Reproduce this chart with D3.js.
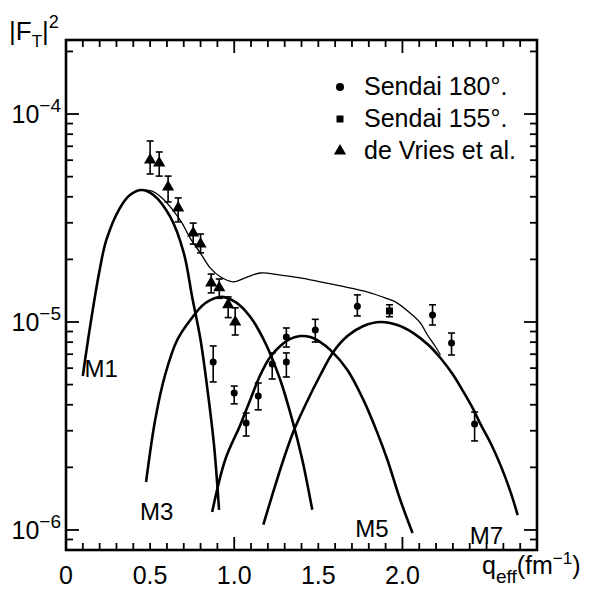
<!DOCTYPE html>
<html><head><meta charset="utf-8">
<script src="https://cdn.jsdelivr.net/npm/d3@7"></script>
<style>body{margin:0;background:#fff}svg{display:block}text{font-family:"Liberation Sans",Arial,sans-serif;fill:#000}</style>
</head><body>
<script>
// ---- data ----
const xTickLabels = ["0","0.5","1.0","1.5","2.0"];
const xTickLabelValues = [0,0.5,1.0,1.5,2.0];
const yTickExponents = [-4,-5,-6];

// de Vries et al. (triangles)
const devriesQ   = [0.50,0.554,0.607,0.667,0.756,0.80,0.863,0.911,0.964,1.006];
const devriesV   = [6.01e-5,5.81e-5,4.46e-5,3.53e-5,2.68e-5,2.37e-5,1.54e-5,1.46e-5,1.21e-5,1.00e-5];
const devriesHi  = [7.42e-5,6.57e-5,5.03e-5,3.95e-5,2.99e-5,2.65e-5,1.70e-5,1.61e-5,1.32e-5,1.17e-5];
const devriesLo  = [5.15e-5,5.03e-5,3.78e-5,3.03e-5,2.37e-5,2.15e-5,1.38e-5,1.30e-5,1.05e-5,8.66e-6];

// Sendai 180 deg (circles)
const s180Q  = [0.875,1.0,1.071,1.143,1.226,1.31,1.31,1.482,1.732,2.179,2.292,2.429];
const s180V  = [6.42e-6,4.56e-6,3.27e-6,4.41e-6,6.28e-6,6.42e-6,8.47e-6,9.15e-6,1.19e-5,1.08e-5,7.93e-6,3.23e-6];
const s180Hi = [7.67e-6,4.92e-6,3.65e-6,5.09e-6,7.10e-6,7.10e-6,9.36e-6,1.03e-5,1.35e-5,1.21e-5,8.85e-6,3.69e-6];
const s180Lo = [5.15e-6,4.04e-6,2.83e-6,3.78e-6,5.32e-6,5.44e-6,7.58e-6,8.01e-6,1.07e-5,9.67e-6,6.94e-6,2.68e-6];

// Sendai 155 deg (square)
const s155Q  = [1.923];
const s155V  = [1.13e-5];
const s155Hi = [1.21e-5];
const s155Lo = [1.06e-5];

// theoretical curves
const m1Q = [0.10,0.14,0.20,0.24,0.32,0.38,0.45,0.52,0.62,0.70,0.75,0.80,0.845,0.88,0.91];
const m1V = [5.50e-6,9.16e-6,1.78e-5,2.48e-5,3.53e-5,4.08e-5,4.31e-5,4.08e-5,3.20e-5,2.15e-5,1.32e-5,8.19e-6,4.46e-6,2.56e-6,1.25e-6];
const m3Q = [0.476,0.530,0.589,0.661,0.738,0.827,0.917,1.006,1.095,1.185,1.274,1.345,1.405,1.464];
const m3V = [1.70e-6,3.38e-6,5.56e-6,8.19e-6,1.02e-5,1.23e-5,1.32e-5,1.25e-5,1.06e-5,7.93e-6,5.26e-6,3.38e-6,2.17e-6,1.25e-6];
const m5Q = [0.869,0.946,1.036,1.095,1.155,1.214,1.274,1.333,1.393,1.452,1.512,1.571,1.673,1.768,1.851,1.911,1.988,2.060];
const m5V = [1.22e-6,2.17e-6,3.20e-6,4.22e-6,5.56e-6,6.79e-6,7.67e-6,8.29e-6,8.56e-6,8.47e-6,8.01e-6,7.34e-6,5.88e-6,4.22e-6,2.93e-6,2.17e-6,1.39e-6,9.67e-7];
const m7Q = [1.173,1.226,1.292,1.351,1.423,1.512,1.589,1.673,1.768,1.869,1.970,2.065,2.155,2.226,2.298,2.363,2.417,2.464,2.524,2.583,2.643,2.685];
const m7V = [1.06e-6,1.47e-6,2.17e-6,2.96e-6,3.99e-6,5.56e-6,7.18e-6,8.56e-6,9.57e-6,1.00e-5,9.67e-6,8.85e-6,7.75e-6,6.71e-6,5.62e-6,4.61e-6,3.86e-6,3.23e-6,2.62e-6,2.05e-6,1.52e-6,1.18e-6];
const sumQ = [0.452,0.512,0.571,0.631,0.690,0.738,0.798,0.857,0.917,0.994,1.065,1.155,1.274,1.393,1.512,1.631,1.768,1.869,1.958,2.048,2.107,2.149,2.190,2.226];
const sumV = [4.31e-5,4.26e-5,3.95e-5,3.49e-5,2.99e-5,2.53e-5,2.15e-5,1.82e-5,1.65e-5,1.56e-5,1.63e-5,1.72e-5,1.68e-5,1.63e-5,1.56e-5,1.49e-5,1.41e-5,1.33e-5,1.25e-5,1.10e-5,9.89e-6,8.66e-6,7.75e-6,6.94e-6];

const curveLabels = [["M1",0.11,5.45e-6],["M3",0.44,1.12e-6],["M5",1.72,9.2e-7],["M7",2.40,8.6e-7]];
const legendItems = [["circle","Sendai 180°."],["square","Sendai 155°."],["triangle","de Vries et al."]];

// ---- drawing ----
const W=593,H=589;
const L=66,R=537,T=40,B=550;
const x=d3.scaleLinear().domain([0,2.8]).range([L,R]);
const y=d3.scaleLog().domain([8.01e-7,2.27e-4]).range([B,T]);
const svg=d3.select("body").append("svg").attr("width",W).attr("height",H);

// frame
svg.append("rect").attr("x",L).attr("y",T).attr("width",R-L).attr("height",B-T)
  .attr("fill","none").attr("stroke","#000").attr("stroke-width",2.6);

// x ticks (top and bottom)
const xt=d3.range(1,28).map(i=>i/10);
const tk=svg.append("g").attr("stroke","#000").attr("stroke-width",1.8);
xt.forEach(q=>{
  const big=Math.abs(q-1)<1e-6||Math.abs(q-2)<1e-6;
  const len=big?13:7;
  tk.append("line").attr("x1",x(q)).attr("x2",x(q)).attr("y1",B).attr("y2",B-len);
  tk.append("line").attr("x1",x(q)).attr("x2",x(q)).attr("y1",T).attr("y2",T+len);
});
// y ticks (left and right)
const yt=[];
[-7,-6,-5,-4].forEach(e=>{for(let k=1;k<10;k++){const v=k*Math.pow(10,e);if(v>8.05e-7&&v<2.26e-4)yt.push([v,k===1]);}});
yt.forEach(([v,maj])=>{
  const len=maj?13:7;
  tk.append("line").attr("x1",L).attr("x2",L+len).attr("y1",y(v)).attr("y2",y(v));
  tk.append("line").attr("x1",R).attr("x2",R-len).attr("y1",y(v)).attr("y2",y(v));
});

// tick labels
xTickLabels.forEach((t,i)=>{
  svg.append("text").attr("x",x(xTickLabelValues[i])).attr("y",584).attr("text-anchor","middle")
    .attr("font-size",25).text(t);
});
yTickExponents.forEach(e=>{
  const t=svg.append("text").attr("x",61).attr("y",y(Math.pow(10,e))+9).attr("text-anchor","end").attr("font-size",25);
  t.append("tspan").text("10");
  t.append("tspan").attr("dy",-11).attr("font-size",19).text("−"+(-e));
});

// axis titles
const yl=svg.append("text").attr("x",9).attr("y",40).attr("font-size",26);
yl.append("tspan").text("|F");
yl.append("tspan").attr("dy",7).attr("font-size",17).text("T");
yl.append("tspan").attr("dy",-7).text("|");
yl.append("tspan").attr("dy",-12).attr("font-size",18).text("2");
const xl=svg.append("text").attr("x",482).attr("y",574).attr("font-size",25);
xl.append("tspan").text("q");
xl.append("tspan").attr("dy",9).attr("font-size",19).text("eff");
xl.append("tspan").attr("dy",-9).text("(fm");
xl.append("tspan").attr("dy",-10).attr("font-size",17).text("−1");
xl.append("tspan").attr("dy",10).text(")");

// curves
const line=d3.line().x(d=>x(d[0])).y(d=>y(d[1])).curve(d3.curveCatmullRom.alpha(0.5));
const zip=(a,b)=>a.map((v,i)=>[v,b[i]]);
svg.append("path").attr("d",line(zip(sumQ,sumV))).attr("fill","none").attr("stroke","#000").attr("stroke-width",1.3);
[[m1Q,m1V],[m3Q,m3V],[m5Q,m5V],[m7Q,m7V]].forEach(([q,v])=>{
  svg.append("path").attr("d",line(zip(q,v))).attr("fill","none").attr("stroke","#000").attr("stroke-width",2.6);
});
curveLabels.forEach(([t,q,v])=>{
  svg.append("text").attr("x",x(q)).attr("y",y(v)).attr("font-size",24).text(t);
});

// error bars + markers
function errbars(Q,V,Hi,Lo){
  const g=svg.append("g").attr("stroke","#000").attr("stroke-width",1.6);
  Q.forEach((q,i)=>{
    const cx=x(q);
    g.append("line").attr("x1",cx).attr("x2",cx).attr("y1",y(Hi[i])).attr("y2",y(Lo[i]));
    g.append("line").attr("x1",cx-3.5).attr("x2",cx+3.5).attr("y1",y(Hi[i])).attr("y2",y(Hi[i]));
    g.append("line").attr("x1",cx-3.5).attr("x2",cx+3.5).attr("y1",y(Lo[i])).attr("y2",y(Lo[i]));
  });
}
errbars(devriesQ,devriesV,devriesHi,devriesLo);
errbars(s180Q,s180V,s180Hi,s180Lo);
errbars(s155Q,s155V,s155Hi,s155Lo);
const tri=d3.symbol().type(d3.symbolTriangle).size(64);
const sq=d3.symbol().type(d3.symbolSquare).size(49);
devriesQ.forEach((q,i)=>svg.append("path").attr("d",tri()).attr("transform",`translate(${x(q)},${y(devriesV[i])})`));
s180Q.forEach((q,i)=>svg.append("circle").attr("cx",x(q)).attr("cy",y(s180V[i])).attr("r",3.5));
s155Q.forEach((q,i)=>svg.append("path").attr("d",sq()).attr("transform",`translate(${x(q)},${y(s155V[i])})`));

// legend
legendItems.forEach(([type,label],i)=>{
  const cy=87+i*32;
  if(type==="circle") svg.append("circle").attr("cx",340).attr("cy",cy).attr("r",4);
  else if(type==="square") svg.append("path").attr("d",sq()).attr("transform",`translate(340,${cy})`);
  else svg.append("path").attr("d",tri()).attr("transform",`translate(340,${cy})`);
  svg.append("text").attr("x",364).attr("y",cy+8).attr("font-size",25).text(label);
});
</script>
</body></html>
